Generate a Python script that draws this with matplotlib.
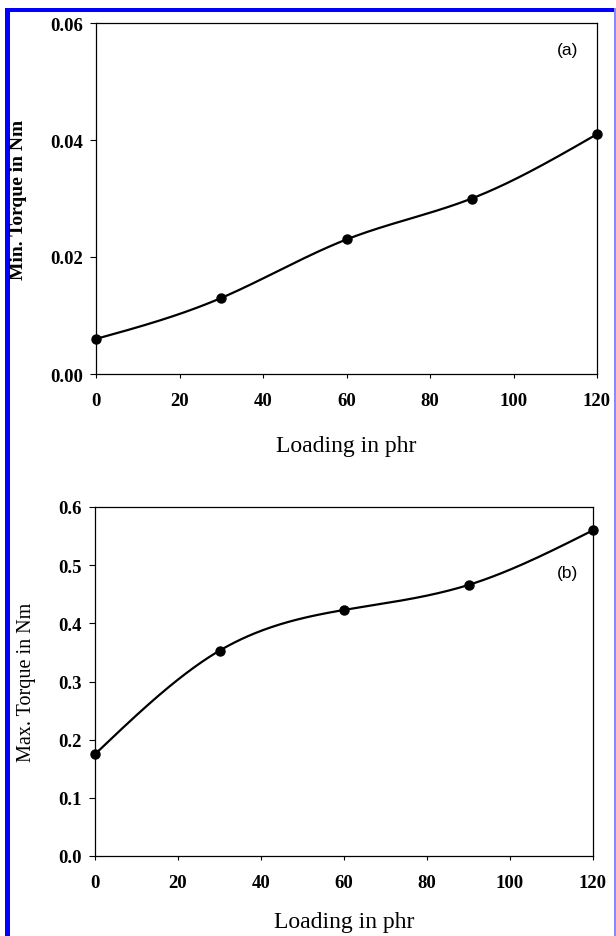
import numpy as np
import matplotlib
matplotlib.use("Agg")
import matplotlib.pyplot as plt
from matplotlib.patches import Rectangle

# ---- data ----
loading = [0, 30, 60, 90, 120]
min_torque = [0.006, 0.013, 0.023, 0.030, 0.041]
max_torque = [0.175, 0.353, 0.423, 0.466, 0.560]
x_ticks = [0, 20, 40, 60, 80, 100, 120]
a_yticks = [0.00, 0.02, 0.04, 0.06]
b_yticks = [0.0, 0.1, 0.2, 0.3, 0.4, 0.5, 0.6]
a_ylabel = "Min. Torque in Nm"
b_ylabel = "Max. Torque in Nm"
xlabel = "Loading in phr"


def natural_spline(x, y, n=300):
    x = np.asarray(x, float)
    y = np.asarray(y, float)
    k = len(x)
    h = np.diff(x)
    A = np.zeros((k, k))
    r = np.zeros(k)
    A[0, 0] = 1
    A[-1, -1] = 1
    for i in range(1, k - 1):
        A[i, i - 1] = h[i - 1]
        A[i, i] = 2 * (h[i - 1] + h[i])
        A[i, i + 1] = h[i]
        r[i] = 3 * ((y[i + 1] - y[i]) / h[i] - (y[i] - y[i - 1]) / h[i - 1])
    c = np.linalg.solve(A, r)
    xs = np.linspace(x[0], x[-1], n)
    ys = np.empty_like(xs)
    for j, xv in enumerate(xs):
        i = min(np.searchsorted(x, xv, side="right") - 1, k - 2)
        dx = xv - x[i]
        b = (y[i + 1] - y[i]) / h[i] - h[i] * (2 * c[i] + c[i + 1]) / 3
        d = (c[i + 1] - c[i]) / (3 * h[i])
        ys[j] = y[i] + b * dx + c[i] * dx ** 2 + d * dx ** 3
    return xs, ys


W, H = 616, 937
fig = plt.figure(figsize=(W / 100, H / 100), dpi=100)
fig.patch.set_facecolor("white")

serif = ["Liberation Serif", "DejaVu Serif"]
sans = ["Liberation Sans", "DejaVu Sans"]


def px(l, t, r, b):
    return [l / W, 1 - b / H, (r - l) / W, (b - t) / H]


def style(ax, yticks, yfmt, ylabel, ylabel_weight, ylabel_size, ylabel_x,
          xlab_y, letter, letter_xy):
    ax.set_xlim(0, 120)
    ax.set_ylim(yticks[0], yticks[-1])
    ax.set_xticks(x_ticks)
    ax.set_yticks(yticks)
    ax.set_yticklabels([yfmt.format(v) for v in yticks])
    ax.tick_params(axis="y", direction="out", length=4.3, width=0.8, pad=5)
    ax.tick_params(axis="x", direction="out", length=3, width=0.8, pad=10)
    for lab in ax.get_xticklabels() + ax.get_yticklabels():
        lab.set_fontfamily(serif)
        lab.set_fontsize(13.5)
        lab.set_fontweight("bold")
    for s in ax.spines.values():
        s.set_linewidth(0.9)
    pos = ax.get_position()
    fig.text(ylabel_x / W, pos.y0 + pos.height / 2, ylabel, rotation=90,
             ha="center", va="center", family=serif, fontsize=ylabel_size,
             fontweight=ylabel_weight)
    fig.text((pos.x0 + pos.x1) / 2, 1 - xlab_y / H, xlabel, ha="center",
             va="center", family=serif, fontsize=17)
    ax.text(letter_xy[0], letter_xy[1], letter, transform=ax.transAxes,
            ha="center", va="center", family=sans, fontsize=12.5)


ax1 = fig.add_axes(px(96, 24, 597, 375))
xs, ys = natural_spline(loading, min_torque)
ax1.plot(xs, ys, color="black", lw=1.6, clip_on=False)
ax1.plot(loading, min_torque, "o", color="black", ms=6.5, clip_on=False)
style(ax1, a_yticks, "{:.2f}", a_ylabel, "bold", 14, 18.5, 447, "(a)",
      ((568 - 96) / (597 - 96), (375 - 50) / (375 - 24)))

ax2 = fig.add_axes(px(95, 508, 593, 857))
xs, ys = natural_spline(loading, max_torque)
ax2.plot(xs, ys, color="black", lw=1.6, clip_on=False)
ax2.plot(loading, max_torque, "o", color="black", ms=6.5, clip_on=False)
style(ax2, b_yticks, "{:.1f}", b_ylabel, "normal", 14.5, 27, 923, "(b)",
      ((567 - 95) / (593 - 95), (857 - 574) / (857 - 508)))

# blue frame
fig.patches.append(Rectangle((4.5 / W, 0), 5.5 / W, 1 - 9 / H, transform=fig.transFigure,
                             color="#0000ff", lw=0))
fig.patches.append(Rectangle((4.5 / W, 1 - 13.3 / H), (616 - 4.5) / W, 4.3 / H,
                             transform=fig.transFigure, color="#0000ff", lw=0))
fig.patches.append(Rectangle((613.5 / W, 0), 2 / W, 1 - 9 / H, transform=fig.transFigure,
                             color="#8888ff", lw=0))

fig.savefig("out.png", dpi=100)
